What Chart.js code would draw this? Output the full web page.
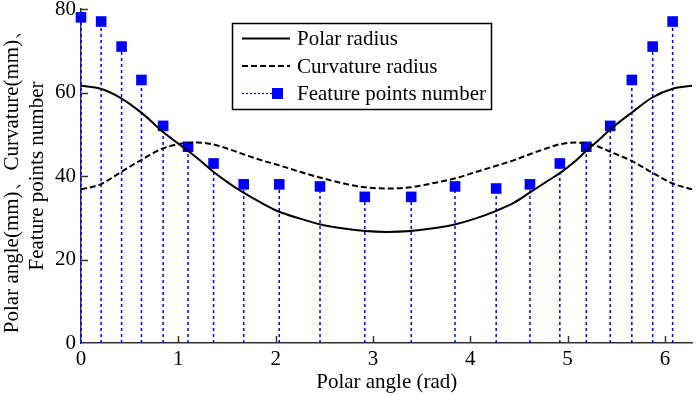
<!DOCTYPE html>
<html>
<head>
<meta charset="utf-8">
<script src="https://cdn.jsdelivr.net/npm/chart.js@4.4.0/dist/chart.umd.min.js"></script>
<style>
    body { margin: 0; background: #fff; }
    #wrap { width: 700px; height: 395px; position: relative; }
</style>
</head>
<body>
<div id="wrap"><canvas id="chart"></canvas></div>
<script>
// angle (rad) where the curves were read
const curveAngles = [0, 0.2, 0.4, 0.63, 0.84, 1.02, 1.2, 1.35, 1.5, 1.67, 1.85, 2.03, 2.25, 2.46, 2.7, 2.92, 3.14,
    3.39, 3.6, 3.84, 4.05, 4.26, 4.45, 4.61, 4.78, 4.92, 5.08, 5.19, 5.32, 5.44, 5.66, 5.87, 6.08, 6.28];
const polarRadius = [61.6, 60.9, 58.8, 55.0, 50.6, 47.4, 44.2, 41.2, 38.6, 36.0, 33.6, 31.5, 29.8, 28.4, 27.4, 26.8, 26.6,
    26.8, 27.4, 28.4, 29.8, 31.6, 33.6, 36.0, 38.6, 40.7, 43.6, 46.0, 48.6, 51.2, 55.2, 58.8, 60.9, 61.6];
const curvatureRadius = [36.8, 38.0, 40.8, 44.0, 46.6, 47.7, 48.0, 47.6, 46.6, 45.2, 43.8, 42.6, 41.0, 39.6, 38.2, 37.3, 37.0,
    37.3, 38.2, 39.4, 40.9, 42.4, 43.8, 45.2, 46.6, 47.6, 48.0, 47.8, 47.0, 45.8, 43.6, 40.8, 38.2, 36.8];

// feature points
const featureAngles = [0, 0.207, 0.417, 0.621, 0.844, 1.1, 1.362, 1.672, 2.037, 2.456, 2.916, 3.393, 3.843, 4.266,
    4.613, 4.92, 5.192, 5.438, 5.66, 5.874, 6.079];
const featureCount = [78, 77, 71, 63, 52, 47, 43, 38, 38, 37.5, 35, 35, 37.5, 37, 38, 43, 47, 52, 63, 71, 77];

const xTicks = [0, 1, 2, 3, 4, 5, 6];
const yTicks = [0, 20, 40, 60, 80];
const seriesNames = ['Polar radius', 'Curvature radius', 'Feature points number'];

const serif = 'Liberation Serif, Times New Roman, serif';
const blue = '#0000ff';
const fontSize = 21;

function toPoints(xs, ys) {
    return xs.map((x, i) => ({ x: x, y: ys[i] }));
}

// dotted stems under the feature points
const stemPlugin = {
    id: 'stems',
    beforeDatasetsDraw(chart) {
        const ctx = chart.ctx;
        const meta = chart.getDatasetMeta(2);
        const y0 = chart.scales.y.getPixelForValue(0);
        ctx.save();
        ctx.strokeStyle = blue;
        ctx.lineWidth = 1.5;
        ctx.setLineDash([3, 3]);
        meta.data.forEach(pt => {
            ctx.beginPath();
            ctx.moveTo(pt.x, y0);
            ctx.lineTo(pt.x, pt.y);
            ctx.stroke();
        });
        ctx.restore();
    }
};

// inward tick marks + boxed legend
const decorPlugin = {
    id: 'decor',
    afterDraw(chart) {
        const ctx = chart.ctx;
        const xs = chart.scales.x, ys = chart.scales.y;
        const area = chart.chartArea;
        ctx.save();
        ctx.strokeStyle = '#333';
        ctx.lineWidth = 1.5;
        xTicks.forEach(v => {
            if (v === 0) return;
            const px = Math.round(xs.getPixelForValue(v)) + 0.5;
            ctx.beginPath();
            ctx.moveTo(px, area.bottom);
            ctx.lineTo(px, area.bottom - 7);
            ctx.stroke();
        });
        yTicks.forEach(v => {
            if (v === 0) return;
            const py = Math.round(ys.getPixelForValue(v)) + 0.5;
            ctx.beginPath();
            ctx.moveTo(area.left, py);
            ctx.lineTo(area.left + 7, py);
            ctx.stroke();
        });

        // legend
        const bx = 232.5, by = 23.5, bw = 259, bh = 86;
        ctx.fillStyle = '#fff';
        ctx.fillRect(bx, by, bw, bh);
        ctx.strokeStyle = '#000';
        ctx.lineWidth = 1.5;
        ctx.strokeRect(bx, by, bw, bh);

        const rows = [38.5, 66, 93.5];
        ctx.lineWidth = 2;
        ctx.beginPath();
        ctx.moveTo(242, rows[0]);
        ctx.lineTo(290, rows[0]);
        ctx.stroke();

        ctx.setLineDash([6, 3]);
        ctx.beginPath();
        ctx.moveTo(242, rows[1]);
        ctx.lineTo(290, rows[1]);
        ctx.stroke();

        ctx.strokeStyle = blue;
        ctx.lineWidth = 1.2;
        ctx.setLineDash([2, 2]);
        ctx.beginPath();
        ctx.moveTo(242, rows[2]);
        ctx.lineTo(272, rows[2]);
        ctx.stroke();
        ctx.setLineDash([]);
        ctx.fillStyle = blue;
        ctx.fillRect(272, rows[2] - 5.5, 11, 11);

        ctx.fillStyle = '#000';
        ctx.font = fontSize + 'px ' + serif;
        ctx.textBaseline = 'middle';
        ctx.textAlign = 'left';
        seriesNames.forEach((name, i) => {
            ctx.fillText(name, 297, rows[i] + 1);
        });
        ctx.restore();
    }
};

const ctx = document.getElementById('chart').getContext('2d');
new Chart(ctx, {
    type: 'line',
    data: {
        datasets: [{
            label: seriesNames[0],
            data: toPoints(curveAngles, polarRadius),
            borderColor: '#000',
            borderWidth: 2,
            pointRadius: 0,
            cubicInterpolationMode: 'monotone',
            fill: false
        }, {
            label: seriesNames[1],
            data: toPoints(curveAngles, curvatureRadius),
            borderColor: '#000',
            borderWidth: 2,
            borderDash: [6, 3],
            pointRadius: 0,
            cubicInterpolationMode: 'monotone',
            fill: false
        }, {
            label: seriesNames[2],
            data: toPoints(featureAngles, featureCount),
            showLine: false,
            clip: false,
            pointStyle: 'rect',
            pointRadius: 7.5,
            backgroundColor: blue,
            borderColor: blue,
            borderWidth: 0
        }]
    },
    options: {
        responsive: true,
        maintainAspectRatio: false,
        animation: false,
        layout: { padding: { top: 9, right: 3, left: 0, bottom: 0 } },
        plugins: {
            legend: { display: false },
            tooltip: { enabled: false }
        },
        scales: {
            x: {
                type: 'linear',
                min: 0,
                max: 6.2832,
                afterBuildTicks: scale => { scale.ticks = xTicks.map(v => ({ value: v })); },
                afterFit: scale => { scale.height = 52; },
                grid: { display: false, drawTicks: false },
                border: { display: true, color: '#333', width: 1.5 },
                ticks: { color: '#000', font: { family: serif, size: fontSize }, padding: 4, maxRotation: 0 },
                title: {
                    display: true,
                    text: 'Polar angle (rad)',
                    color: '#000',
                    font: { family: serif, size: fontSize },
                    padding: { top: 0, bottom: 0 }
                }
            },
            y: {
                min: 0,
                max: 80,
                afterBuildTicks: scale => { scale.ticks = yTicks.map(v => ({ value: v })); },
                afterFit: scale => {
                    scale.width = 81;
                    scale.paddingTop = 0;
                    scale.paddingBottom = 0;
                },
                grid: { display: false, drawTicks: false },
                border: { display: true, color: '#333', width: 1.5 },
                ticks: { color: '#000', font: { family: serif, size: fontSize }, padding: 5 },
                title: {
                    display: true,
                    text: ['Polar angle(mm)、Curvature(mm)、', 'Feature points number'],
                    color: '#000',
                    font: { family: serif, size: fontSize },
                    padding: { top: 0, bottom: 0 }
                }
            }
        }
    },
    plugins: [stemPlugin, decorPlugin]
});
</script>
</body>
</html>
